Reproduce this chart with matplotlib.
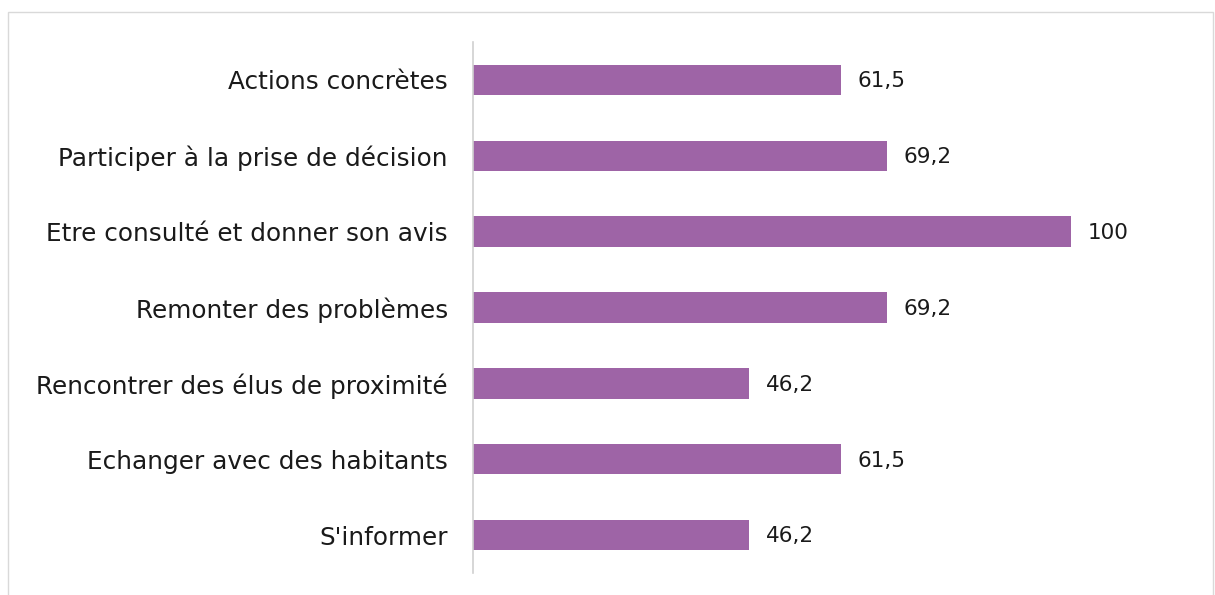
import matplotlib.pyplot as plt
from matplotlib.patches import Rectangle

# --- data ---
categories = ["Actions concrètes", "Participer à la prise de décision",
              "Etre consulté et donner son avis", "Remonter des problèmes",
              "Rencontrer des élus de proximité", "Echanger avec des habitants",
              "S'informer"]
values = [61.5, 69.2, 100, 69.2, 46.2, 61.5, 46.2]
value_labels = ["61,5", "69,2", "100", "69,2", "46,2", "61,5", "46,2"]

bar_color = "#9E64A6"
plt.rcParams["font.family"] = ["DejaVu Sans"]

fig = plt.figure(figsize=(12.15, 5.95), dpi=100)
fig.patches.append(Rectangle((8 / 1215, -0.01), (1213 - 8) / 1215, 1 - 12 / 595 + 0.01,
                             transform=fig.transFigure, fill=False,
                             edgecolor="#d9d9d9", linewidth=1))

ax = fig.add_axes([473 / 1215, 1 - 573 / 595, (1071 - 473) / 1215, (573 - 42) / 595])
y = list(range(len(categories)))
ax.barh(y, values, height=0.4, color=bar_color)
ax.set_xlim(0, 100)
ax.set_ylim(len(categories) - 0.5, -0.5)
ax.set_yticks(y)
ax.set_yticklabels(categories, fontsize=17.8, color="#1a1a1a")
ax.tick_params(axis="y", length=0, pad=18)
ax.set_xticks([])

for s in ["top", "right", "bottom"]:
    ax.spines[s].set_visible(False)
ax.spines["left"].set_color("#d0d0d0")
ax.spines["left"].set_linewidth(1.2)

for yi, v, lab in zip(y, values, value_labels):
    ax.annotate(lab, (v, yi), xytext=(12, -1), textcoords="offset points",
                va="center", ha="left", fontsize=15.5, color="#1a1a1a",
                annotation_clip=False)

fig.savefig("out.png", dpi=100)
